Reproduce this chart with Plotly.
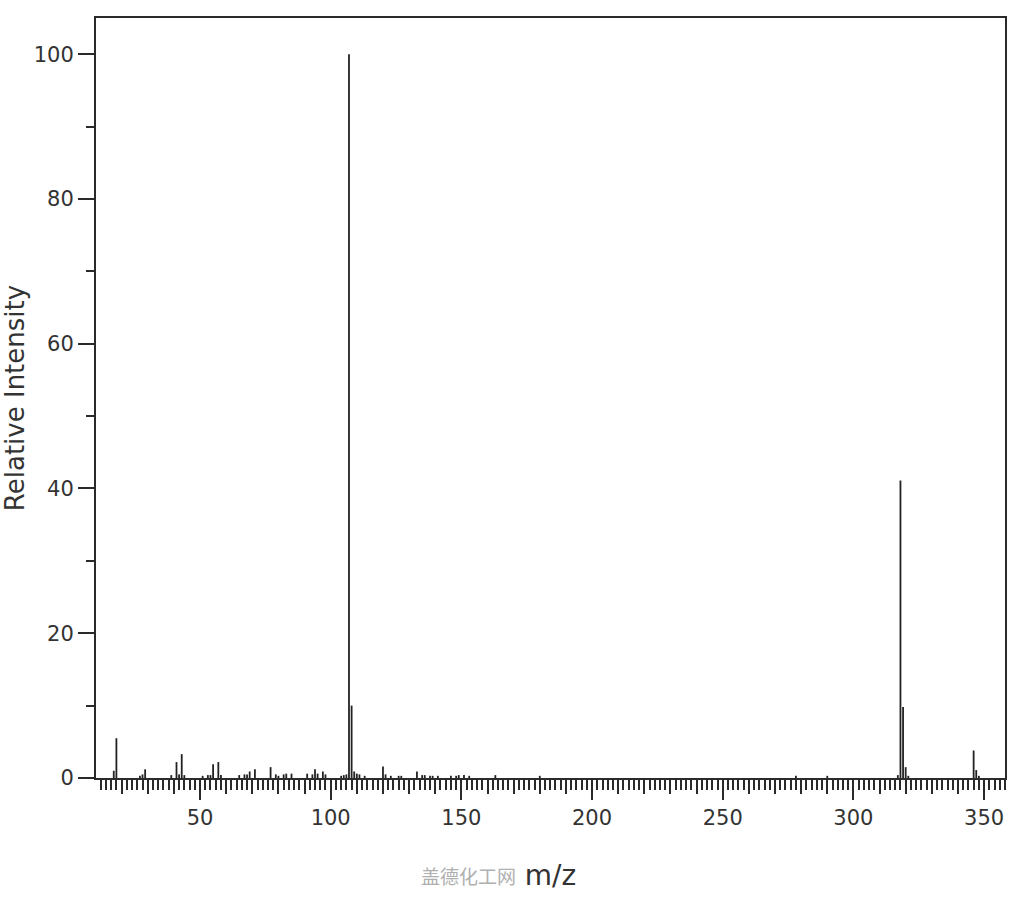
import plotly.graph_objects as go

# m/z values and relative intensities
mz = [17, 18, 27, 28, 29, 39, 41, 42, 43, 44, 51, 53, 54, 55, 57, 58,
      65, 67, 68, 69, 71, 77, 79, 80, 82, 83, 85, 91, 93, 94, 95, 97, 98,
      104, 105, 106, 107, 108, 109, 110, 111, 113, 120, 121, 123, 126, 127,
      133, 135, 136, 138, 139, 141, 146, 148, 149, 151, 153, 163, 180,
      278, 290, 317, 318, 319, 320, 321, 346, 347, 348]
intensity = [1.0, 5.5, 0.3, 0.5, 1.2, 0.4, 2.2, 0.5, 3.3, 0.4, 0.3, 0.4, 0.4, 1.9, 2.2, 0.4,
             0.4, 0.5, 0.5, 0.9, 1.2, 1.5, 0.5, 0.3, 0.5, 0.6, 0.6, 0.6, 0.5, 1.2, 0.6, 0.9, 0.5,
             0.3, 0.4, 0.5, 100.0, 10.0, 0.9, 0.6, 0.5, 0.3, 1.6, 0.5, 0.3, 0.3, 0.3,
             0.9, 0.4, 0.4, 0.3, 0.3, 0.3, 0.3, 0.3, 0.4, 0.4, 0.3, 0.4, 0.3,
             0.3, 0.3, 0.4, 41.1, 9.8, 1.5, 0.3, 3.8, 1.1, 0.3]

x_labels = [50, 100, 150, 200, 250, 300, 350]
x_medium = list(range(20, 360, 10))
y_labels = [0, 20, 40, 60, 80, 100]

x_title = "m/z"
y_title = "Relative Intensity"
watermark = "盖德化工网"

# stick spectrum: vertical segments from the baseline
xs, ys = [], []
for m, v in zip(mz, intensity):
    xs += [m, m, None]
    ys += [0, v, None]

axcol = "#2a2a2a"
font_main = "DejaVu Sans"

fig = go.Figure()
fig.add_trace(go.Scatter(x=xs, y=ys, mode="lines",
                         line=dict(color="#222222", width=1.8),
                         hoverinfo="skip", showlegend=False))
# invisible trace to activate the overlay axis for medium ticks
fig.add_trace(go.Scatter(x=[x_medium[0]], y=[0], xaxis="x2", mode="markers",
                         marker=dict(opacity=0), showlegend=False, hoverinfo="skip"))

xrange = [10.2, 358]
fig.update_layout(
    width=1024, height=900,
    margin=dict(l=96, r=19, t=18, b=122, autoexpand=False),
    paper_bgcolor="white", plot_bgcolor="white",
    xaxis=dict(range=xrange, showgrid=False, zeroline=False,
               showline=True, linecolor=axcol, linewidth=2, mirror=True,
               tickmode="array", tickvals=x_labels, ticktext=[str(v) for v in x_labels],
               ticks="outside", ticklen=20, tickwidth=2, tickcolor=axcol,
               minor=dict(dtick=2, tick0=0, ticks="outside", ticklen=10,
                          tickwidth=2, tickcolor=axcol, showgrid=False),
               tickfont=dict(family=font_main, size=21, color="#333333"),
               title=dict(text=x_title, font=dict(family=font_main, size=28, color="#333333"),
                          standoff=36)),
    xaxis2=dict(range=xrange, overlaying="x", side="bottom", showgrid=False,
                zeroline=False, showline=False, showticklabels=False,
                tickmode="array", tickvals=x_medium,
                ticks="outside", ticklen=15, tickwidth=2, tickcolor=axcol),
    yaxis=dict(range=[0, 105], showgrid=False, zeroline=False,
               showline=True, linecolor=axcol, linewidth=2, mirror=True,
               tickmode="array", tickvals=y_labels,
               ticks="outside", ticklen=16, tickwidth=2, tickcolor=axcol,
               minor=dict(tickvals=[10, 30, 50, 70, 90], ticks="outside", ticklen=8,
                          tickwidth=2, tickcolor=axcol, showgrid=False),
               tickfont=dict(family=font_main, size=21, color="#333333"),
               title=dict(text=y_title, font=dict(family=font_main, size=26, color="#333333"),
                          standoff=14)),
    annotations=[dict(text=watermark, xref="paper", yref="paper",
                      x=0.41, y=-0.128, xanchor="center", yanchor="middle",
                      showarrow=False,
                      font=dict(family="Noto Sans CJK SC", size=19, color="#b0b0b0"))],
)

fig.write_html("out.html", config={"displayModeBar": False},
               post_script="document.body.style.margin='0';")
